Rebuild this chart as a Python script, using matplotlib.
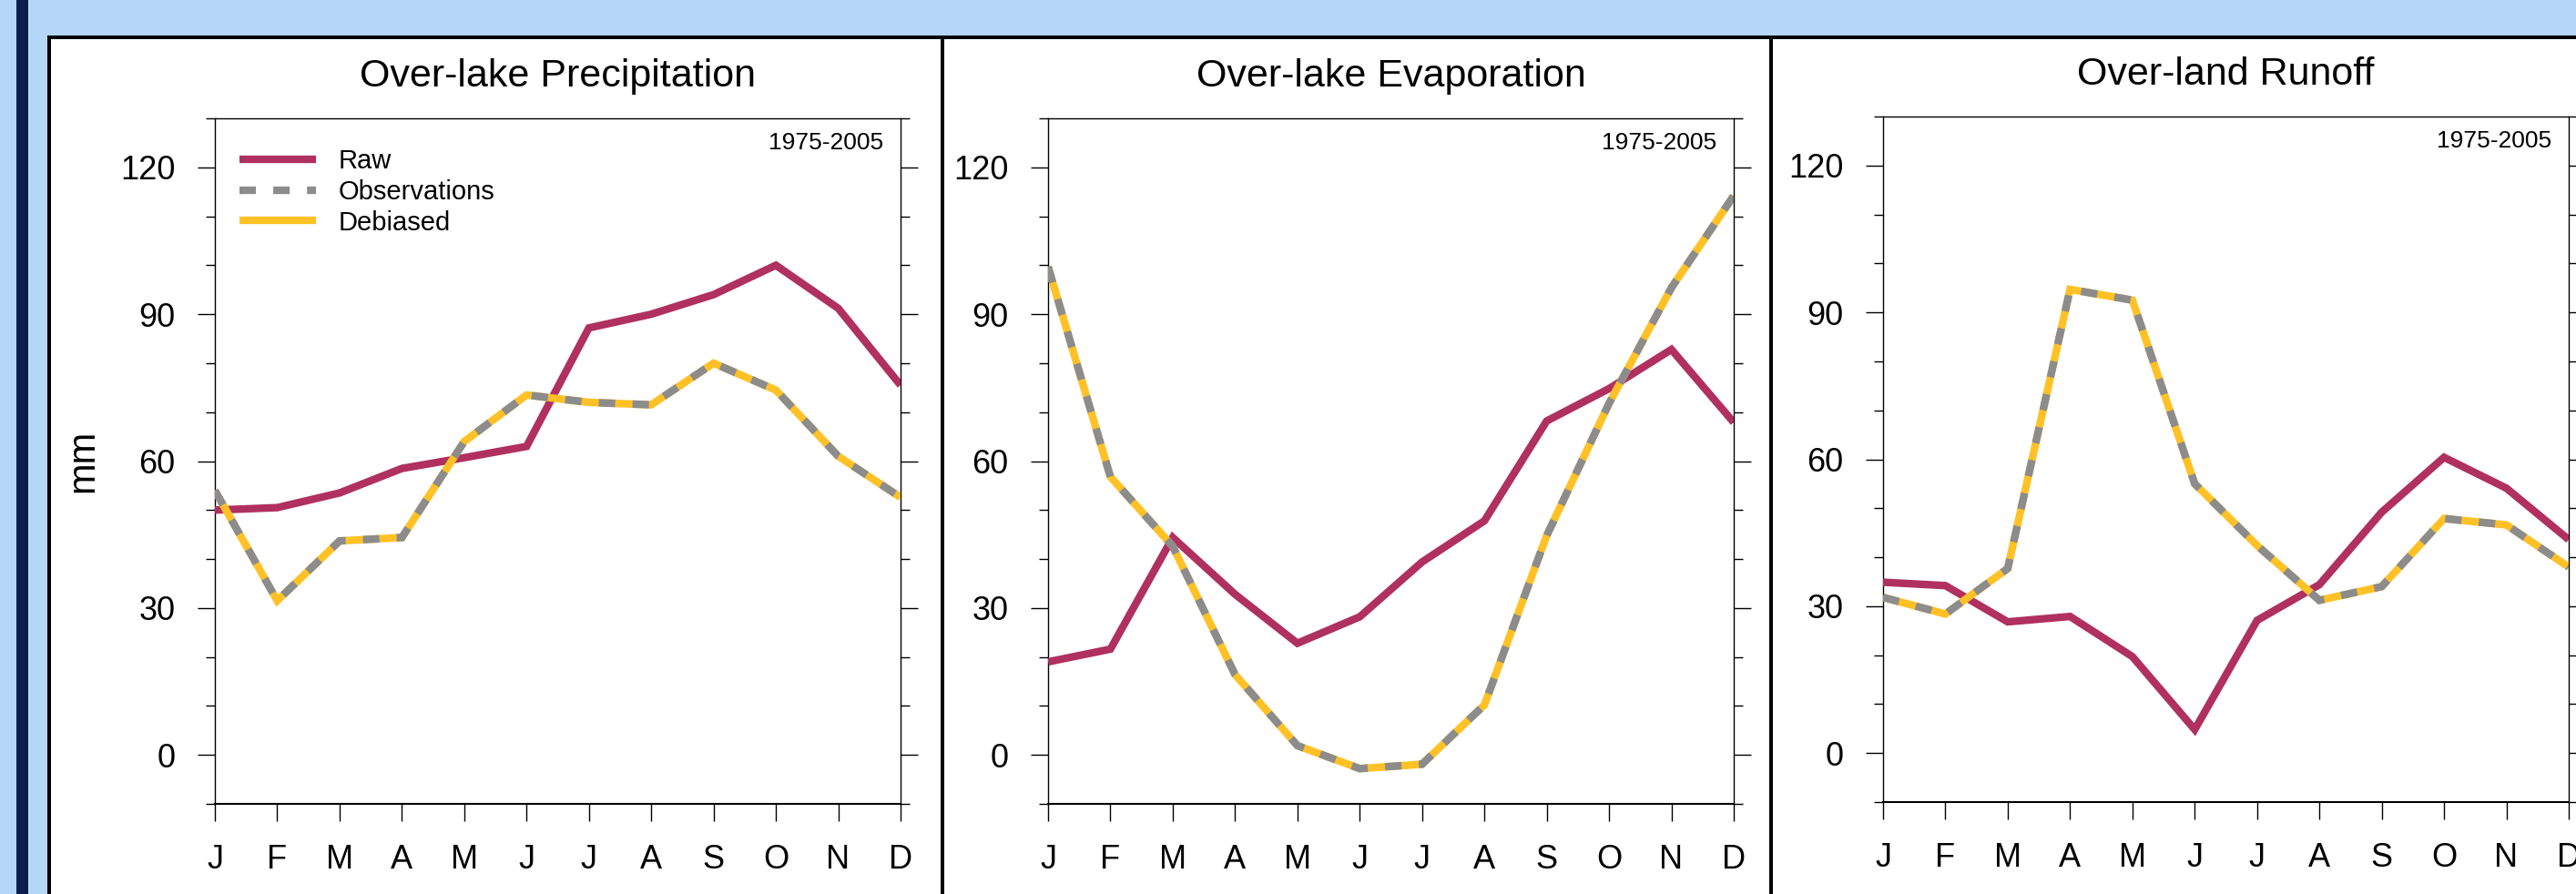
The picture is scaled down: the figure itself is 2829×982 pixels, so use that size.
import matplotlib
matplotlib.use("Agg")
import matplotlib.pyplot as plt
from matplotlib.patches import Rectangle
from matplotlib.ticker import MultipleLocator, FixedLocator

plt.rcParams['font.family'] = ['Liberation Sans', 'DejaVu Sans']
plt.rcParams['lines.scale_dashes'] = False

# ---- data -------------------------------------------------------------
months = ['J', 'F', 'M', 'A', 'M', 'J', 'J', 'A', 'S', 'O', 'N', 'D']

precip_raw = [50, 50.5, 53.5, 58.5, 60.7, 63, 87.2, 90, 94, 100, 91.2, 75.5]
precip_obs = [54, 31.5, 43.7, 44.4, 64, 73.5, 72, 71.5, 80, 74.5, 61, 52.6]
precip_deb = [54, 31.5, 43.7, 44.4, 64, 73.5, 72, 71.5, 80, 74.5, 61, 52.6]

evap_raw = [19, 21.6, 44.4, 32.8, 22.8, 28.2, 39.4, 47.8, 68.2, 74.8, 82.8, 67.9]
evap_obs = [99.7, 56.8, 42.6, 16.4, 1.9, -2.8, -1.9, 10.2, 44.8, 71.8, 95.4, 114.2]
evap_deb = [99.7, 56.8, 42.6, 16.4, 1.9, -2.8, -1.9, 10.2, 44.8, 71.8, 95.4, 114.2]

runoff_raw = [34.9, 34.2, 26.8, 27.9, 19.7, 4.8, 27.1, 34.4, 49.2, 60.4, 54.1, 43.6]
runoff_obs = [31.8, 28.4, 37.7, 94.7, 92.5, 55, 42.4, 31.2, 34, 47.9, 46.6, 38]
runoff_deb = [31.8, 28.4, 37.7, 94.7, 92.5, 55, 42.4, 31.2, 34, 47.9, 46.6, 38]

titles = ['Over-lake Precipitation', 'Over-lake Evaporation', 'Over-land Runoff']
period = '1975-2005'
yticks = [0, 30, 60, 90, 120]
ylim = (-10, 130)

series = [
    (precip_raw, precip_obs, precip_deb),
    (evap_raw, evap_obs, evap_deb),
    (runoff_raw, runoff_obs, runoff_deb),
]

# ---- styling ----------------------------------------------------------
W, H = 2829, 982
DPI = 100
C_RAW = '#B03060'
C_OBS = '#8C8C8C'
C_DEB = '#FFC125'
LW = 6.0
LIGHT_BLUE = '#B4D7F8'
NAVY = '#0B1F4E'

fig = plt.figure(figsize=(W / DPI, H / DPI), dpi=DPI)
fig.patch.set_facecolor('white')


def px_rect(x0, y0, x1, y1, color):
    """Rectangle given in pixel coordinates measured from the top-left."""
    r = Rectangle((x0 / W, 1 - y1 / H), (x1 - x0) / W, (y1 - y0) / H,
                  transform=fig.transFigure, facecolor=color,
                  edgecolor='none', zorder=0)
    fig.patches.append(r)


# frame around the panels
px_rect(0, 0, W, 39, LIGHT_BLUE)
px_rect(0, 0, 52, H, LIGHT_BLUE)
px_rect(18, 0, 31, H, NAVY)
px_rect(52, 39, W, 43, 'black')
px_rect(52, 39, 56, H, 'black')
px_rect(1033, 39, 1037, H, 'black')
px_rect(1943, 39, 1947, H, 'black')

# axes placement (pixels: left, top, size)
axes_px = [(236, 130), (1151, 130), (2068, 128)]
SIZE = 753

for i, ((x0, y0), (raw, obs, deb), title) in enumerate(zip(axes_px, series, titles)):
    ax = fig.add_axes([x0 / W, 1 - (y0 + SIZE) / H, SIZE / W, SIZE / H])
    x = list(range(len(months)))

    h_raw, = ax.plot(x, raw, color=C_RAW, lw=LW, solid_joinstyle='miter',
                     solid_capstyle='butt', zorder=3, label='Raw')
    h_deb, = ax.plot(x, deb, color=C_DEB, lw=LW, solid_joinstyle='miter',
                     solid_capstyle='butt', zorder=4, label='Debiased')
    h_obs, = ax.plot(x, obs, color=C_OBS, lw=LW, linestyle=(0, (13, 13.7)),
                     dash_capstyle='butt', dash_joinstyle='miter', zorder=5,
                     label='Observations')

    ax.set_xlim(0, len(months) - 1)
    ax.set_ylim(*ylim)
    ax.xaxis.set_major_locator(FixedLocator(x))
    ax.set_xticklabels(months)
    ax.yaxis.set_major_locator(FixedLocator(yticks))
    ax.yaxis.set_minor_locator(MultipleLocator(10))

    ax.tick_params(axis='both', which='major', direction='out', length=13.5,
                   width=1.0, pad=18, labelsize=26)
    ax.tick_params(axis='y', which='minor', direction='out', length=7,
                   width=1.0, left=True, right=True)
    ax.tick_params(axis='y', which='both', left=True, right=True)
    ax.tick_params(axis='x', top=False)

    for side in ['left', 'right', 'top']:
        ax.spines[side].set_linewidth(1.0)
    ax.spines['bottom'].set_linewidth(1.5)

    ax.set_title(title, fontsize=31, pad=25)
    ax.text(1 - 19 / SIZE, 1 - 27 / SIZE, period, transform=ax.transAxes,
            ha='right', va='center', fontsize=19)

    if i == 0:
        ax.text(-145 / SIZE, 0.5, 'mm', transform=ax.transAxes, rotation=90,
                ha='center', va='center', fontsize=30)
        ax.legend(handles=[h_raw, h_obs, h_deb], loc='upper left',
                  bbox_to_anchor=(27 / SIZE, 1 - 33 / SIZE), frameon=False,
                  fontsize=21, handlelength=2.88, handletextpad=0.86,
                  labelspacing=0.2, borderpad=0, borderaxespad=0)

fig.savefig('out.png', dpi=DPI)
